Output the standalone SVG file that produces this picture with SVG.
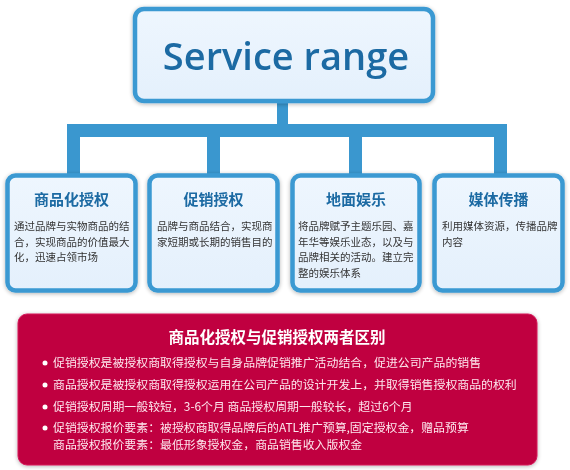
<svg xmlns="http://www.w3.org/2000/svg" width="570" height="470" viewBox="0 0 570 470">
<defs>
<linearGradient id="bg" x1="0" y1="0" x2="0" y2="1">
<stop offset="0" stop-color="#eef6fe"/><stop offset="1" stop-color="#e4f0fc"/>
</linearGradient>
<filter id="sh" x="-10%" y="-10%" width="120%" height="120%">
<feGaussianBlur in="SourceAlpha" stdDeviation="2"/>
<feOffset dx="0" dy="1"/>
<feComponentTransfer><feFuncA type="linear" slope="0.3"/></feComponentTransfer>
<feMerge><feMergeNode/><feMergeNode in="SourceGraphic"/></feMerge>
</filter>
</defs>
<style>
.box{fill:url(#bg);stroke:#3a99d2;stroke-width:4.5}
.bar{fill:#3a97cf}
.ttl{font-family:"Noto Sans CJK SC","Noto Sans",sans-serif;font-weight:700;font-size:15px;fill:#1b6aa3;text-anchor:middle}
.txt{font-family:"Noto Sans CJK SC","Noto Sans",sans-serif;font-size:10.5px;fill:#333}
.pt{font-family:"Noto Sans CJK SC","Noto Sans",sans-serif;font-size:11.9px;fill:#fde6ee}
</style>
<rect width="570" height="470" fill="#ffffff"/>
<g id="connectors">
<rect class="bar" x="277" y="100" width="11" height="30"/>
<rect class="bar" x="67" y="124" width="440" height="13"/>
<rect class="bar" x="67" y="124" width="13" height="52"/>
<rect class="bar" x="207" y="124" width="13" height="52"/>
<rect class="bar" x="349" y="124" width="13" height="52"/>
<rect class="bar" x="494" y="124" width="13" height="52"/>
</g>
<g id="top" filter="url(#sh)">
<rect class="box" x="135" y="9" width="298" height="92" rx="9"/>
<text x="286" y="70" font-family="Open Sans, sans-serif" font-weight="600" font-size="38" fill="#1b6aa3" text-anchor="middle">Service range</text>
</g>
<g id="n1" filter="url(#sh)">
<rect class="box" x="7.5" y="175.5" width="128" height="115" rx="8"/>
<text class="ttl" x="71.5" y="205">商品化授权</text>
<text class="txt" x="14" y="230">通过品牌与实物商品的结</text>
<text class="txt" x="14" y="246">合，实现商品的价值最大</text>
<text class="txt" x="14" y="261">化，迅速占领市场</text>
</g>
<g id="n2" filter="url(#sh)">
<rect class="box" x="149.5" y="175.5" width="128" height="115" rx="8"/>
<text class="ttl" x="213.5" y="205">促销授权</text>
<text class="txt" x="157" y="230">品牌与商品结合，实现商</text>
<text class="txt" x="157" y="246">家短期或长期的销售目的</text>
</g>
<g id="n3" filter="url(#sh)">
<rect class="box" x="292.5" y="175.5" width="127" height="115" rx="8"/>
<text class="ttl" x="356" y="205">地面娱乐</text>
<text class="txt" x="298" y="230">将品牌赋予主题乐园、嘉</text>
<text class="txt" x="298" y="246">年华等娱乐业态，以及与</text>
<text class="txt" x="298" y="261">品牌相关的活动。建立完</text>
<text class="txt" x="298" y="277">整的娱乐体系</text>
</g>
<g id="n4" filter="url(#sh)">
<rect class="box" x="434.5" y="175.5" width="128" height="115" rx="8"/>
<text class="ttl" x="498.5" y="205">媒体传播</text>
<text class="txt" x="442" y="230">利用媒体资源，传播品牌</text>
<text class="txt" x="442" y="246">内容</text>
</g>
<g id="diff" filter="url(#sh)">
<rect x="18" y="314" width="519" height="151" rx="9" fill="#c0003f" stroke="#d4195a" stroke-width="1"/>
<text x="277" y="343" font-family="Noto Sans CJK SC, sans-serif" font-weight="700" font-size="15.5" fill="#ffffff" text-anchor="middle">商品化授权与促销授权两者区别</text>
<g fill="#ffffff">
<circle cx="45" cy="363" r="2.5"/>
<circle cx="45" cy="385" r="2.5"/>
<circle cx="45" cy="407" r="2.5"/>
<circle cx="45" cy="428" r="2.5"/>
</g>
<text class="pt" x="53" y="367">促销授权是被授权商取得授权与自身品牌促销推广活动结合，促进公司产品的销售</text>
<text class="pt" x="53" y="389">商品授权是被授权商取得授权运用在公司产品的设计开发上，并取得销售授权商品的权利</text>
<text class="pt" x="53" y="411">促销授权周期一般较短，3-6个月 商品授权周期一般较长，超过6个月</text>
<text class="pt" x="53" y="432">促销授权报价要素：被授权商取得品牌后的ATL推广预算,固定授权金，赠品预算</text>
<text class="pt" x="53" y="449">商品授权报价要素：最低形象授权金，商品销售收入版权金</text>
</g>
</svg>
